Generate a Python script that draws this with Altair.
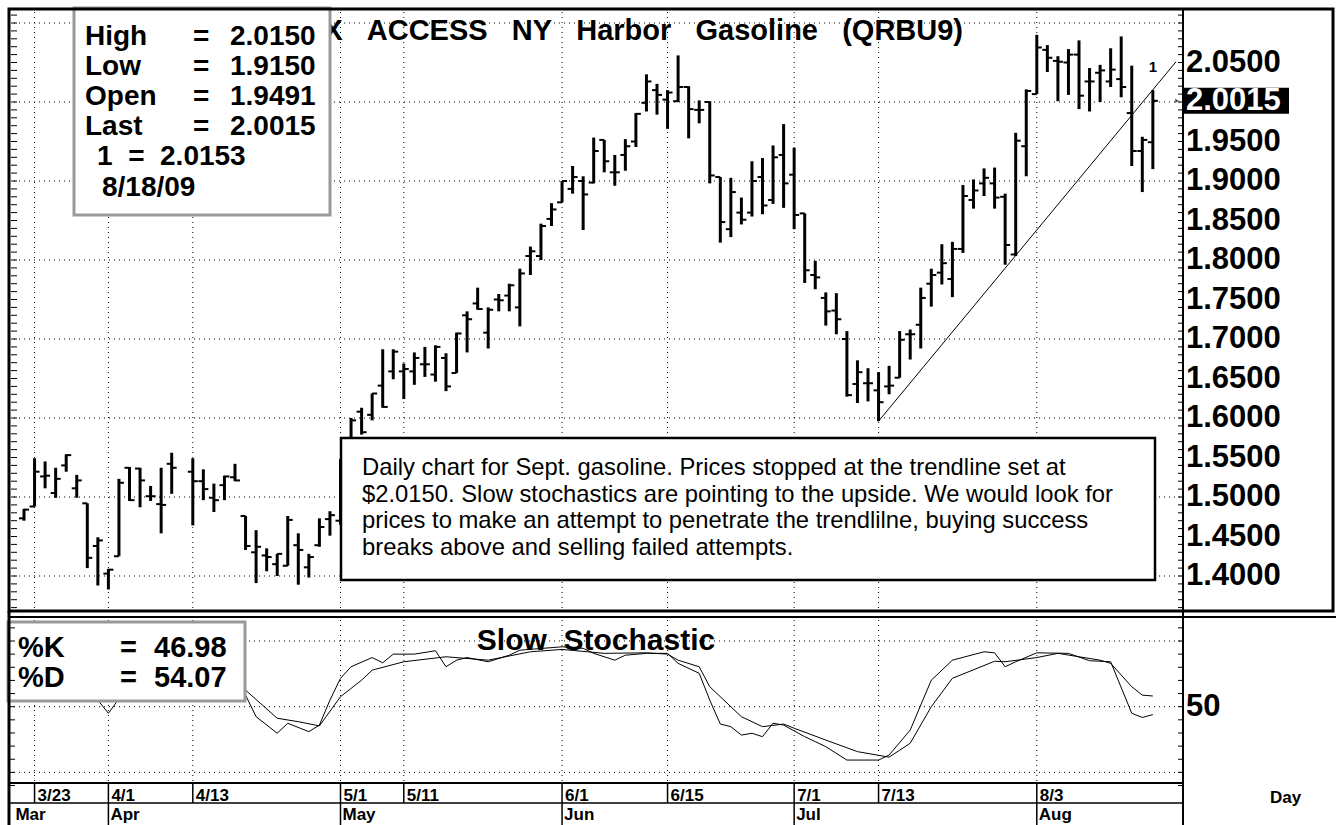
import altair as alt
import pandas as pd

# ---------------- data ----------------
# x position = weekday slot index: 0 = 3/20/09 ... 107 = 8/18/09 (slot 15 = 4/10 Good Friday, no bar)
bar_idx = list(range(0, 15)) + list(range(16, 108))

opens = [1.473, 1.488, 1.526, 1.505, 1.540, 1.511, 1.492, 1.438, 1.403, 1.425, 1.537, 1.536, 1.501, 1.491, 1.542,
         1.532, 1.520, 1.499, 1.515, 1.525, 1.476, 1.430, 1.426, 1.415, 1.413, 1.439, 1.411, 1.439, 1.472,
         1.470, 1.550, 1.608, 1.604, 1.641, 1.659, 1.659, 1.659, 1.668, 1.655, 1.676, 1.657, 1.730, 1.745, 1.708, 1.750, 1.755, 1.740, 1.805, 1.805, 1.852,
         1.873, 1.890, 1.900, 1.898, 1.952, 1.911, 1.933, 1.950, 1.999, 2.015, 2.003, 2.001, 2.019, 1.990, 2.000, 1.905, 1.839, 1.860, 1.860, 1.905, 1.876, 1.933,
         1.908, 1.859, 1.781, 1.752, 1.736, 1.700, 1.643, 1.644, 1.635, 1.640, 1.651, 1.706, 1.718, 1.770, 1.784, 1.776, 1.814, 1.876, 1.897, 1.897, 1.880, 1.807,
         1.944, 2.010, 2.066, 2.052, 2.050, 2.060, 2.026, 2.037, 2.026, 2.029, 1.986, 1.938, 1.9491]
highs = [1.485, 1.549, 1.545, 1.537, 1.554, 1.528, 1.492, 1.449, 1.409, 1.523, 1.538, 1.537, 1.514, 1.537, 1.556,
         1.549, 1.535, 1.517, 1.527, 1.542, 1.476, 1.458, 1.435, 1.428, 1.476, 1.454, 1.428, 1.473, 1.482,
         1.548, 1.600, 1.613, 1.631, 1.687, 1.687, 1.669, 1.683, 1.690, 1.692, 1.682, 1.708, 1.735, 1.765, 1.740, 1.757, 1.770, 1.789, 1.817, 1.846, 1.872,
         1.900, 1.919, 1.906, 1.955, 1.952, 1.933, 1.953, 1.986, 2.035, 2.023, 2.015, 2.059, 2.020, 2.002, 2.001, 1.905, 1.904, 1.879, 1.925, 1.929, 1.945, 1.972,
         1.942, 1.859, 1.799, 1.759, 1.758, 1.710, 1.673, 1.663, 1.658, 1.666, 1.710, 1.712, 1.765, 1.789, 1.820, 1.823, 1.895, 1.902, 1.916, 1.917, 1.884, 1.961,
         2.016, 2.085, 2.072, 2.058, 2.067, 2.078, 2.043, 2.047, 2.068, 2.083, 2.046, 1.956, 2.0150]
lows = [1.470, 1.488, 1.511, 1.499, 1.532, 1.499, 1.410, 1.388, 1.383, 1.425, 1.495, 1.487, 1.495, 1.454, 1.504,
        1.464, 1.496, 1.481, 1.496, 1.520, 1.433, 1.391, 1.406, 1.400, 1.413, 1.389, 1.398, 1.437, 1.451,
        1.465, 1.545, 1.579, 1.597, 1.613, 1.649, 1.624, 1.642, 1.652, 1.646, 1.634, 1.657, 1.683, 1.737, 1.688, 1.735, 1.735, 1.716, 1.781, 1.800, 1.843,
        1.873, 1.884, 1.838, 1.897, 1.911, 1.894, 1.913, 1.943, 1.988, 1.984, 1.966, 2.000, 1.954, 1.973, 1.897, 1.822, 1.829, 1.845, 1.855, 1.858, 1.871, 1.866,
        1.839, 1.771, 1.763, 1.717, 1.706, 1.627, 1.619, 1.621, 1.596, 1.630, 1.651, 1.674, 1.688, 1.741, 1.769, 1.753, 1.809, 1.865, 1.881, 1.865, 1.794, 1.805,
        1.906, 2.010, 2.038, 2.001, 2.009, 1.991, 1.988, 2.000, 2.019, 2.006, 1.919, 1.886, 1.9150]
closes = [1.484, 1.532, 1.527, 1.523, 1.553, 1.521, 1.423, 1.445, 1.408, 1.518, 1.496, 1.521, 1.501, 1.490, 1.537,
          1.520, 1.510, 1.496, 1.526, 1.521, 1.438, 1.437, 1.424, 1.428, 1.471, 1.433, 1.424, 1.462, 1.477,
          1.545, 1.597, 1.582, 1.631, 1.614, 1.684, 1.662, 1.676, 1.668, 1.690, 1.640, 1.707, 1.725, 1.738, 1.737, 1.749, 1.768, 1.783, 1.811, 1.843, 1.864,
          1.900, 1.905, 1.883, 1.938, 1.925, 1.911, 1.944, 1.985, 2.026, 2.009, 2.012, 2.019, 1.991, 1.990, 1.907, 1.848, 1.886, 1.851, 1.900, 1.869, 1.930, 1.897,
          1.857, 1.787, 1.778, 1.735, 1.725, 1.629, 1.658, 1.644, 1.620, 1.641, 1.699, 1.706, 1.752, 1.781, 1.796, 1.814, 1.881, 1.888, 1.904, 1.879, 1.819, 1.951,
          2.014, 2.069, 2.056, 2.051, 2.060, 2.008, 2.026, 2.040, 2.041, 2.019, 1.938, 1.952, 2.0015]

# slow stochastic (%K, %D)
k_idx = [0, 2, 4, 6, 7, 8, 9, 11, 13, 15, 17, 19, 21, 22, 24, 25, 27, 28, 29, 30, 31, 33, 34, 35, 37, 39, 40, 41, 42, 44,
         46, 47, 51, 53, 54, 56, 57, 59, 61, 62, 64, 65, 66, 67, 68, 69, 70, 71, 72, 74, 75, 76, 78, 81, 82, 84, 86, 88,
         91, 92, 93, 94, 96, 99, 101, 103, 105, 106, 107]
k_val = [60, 66, 64, 57, 52.5, 47.5, 53, 60, 65, 66, 63, 59, 54.4, 46.2, 39.9, 43.7, 40.5, 43.0, 52.5, 60.8, 65.2, 68.7, 66.7, 70.0, 70.0, 71.3, 65.2, 67.7, 68.7, 67.1,
         69.6, 71.5, 72.8, 72.2, 70.3, 67.7, 69.6, 70.3, 70.3, 66.5, 62.7, 52.5, 43.4, 42.4, 39.2, 39.9, 38.6, 43.7, 43.0, 38.6, 36.7, 34.8, 29.7, 29.7, 31.6, 41.1, 60.1, 67.7,
         70.9, 70.5, 65.2, 67.1, 70.5, 70.3, 67.5, 67.1, 47.5, 45.9, 46.98]
d_idx = [0, 3, 6, 8, 10, 13, 16, 19, 21, 24, 26, 28, 30, 32, 33, 36, 40, 44, 48, 51, 55, 59, 61, 62, 64, 65, 68, 70, 72, 73,
         76, 79, 82, 84, 86, 88, 92, 93, 96, 98, 102, 103, 105, 106, 107]
d_val = [62, 63, 59, 54, 55, 61, 64, 60, 56.3, 45.6, 44.3, 42.7, 53.8, 60.1, 63.9, 67.1, 69.0, 67.7, 70.9, 71.8, 70.3, 70.5, 70.0, 67.7, 65.2, 57.6, 46.2, 42.4, 43.4, 41.8,
         37.3, 32.9, 30.8, 36.1, 50.0, 60.8, 67.3, 67.1, 68.7, 70.3, 67.7, 66.5, 57.6, 54.4, 54.07]

# trendline drawn on the chart (slot, price)
trend_idx = [81, 109.2]
trend_price = [1.596, 2.051]

# axes
price_grid = [1.4, 1.5, 1.6, 1.7, 1.8, 1.9, 2.0, 2.1]
price_labels = ["2.0500", "1.9500", "1.9000", "1.8500", "1.8000", "1.7500", "1.7000", "1.6500",
                "1.6000", "1.5500", "1.5000", "1.4500", "1.4000"]
price_label_vals = [2.05, 1.95, 1.90, 1.85, 1.80, 1.75, 1.70, 1.65, 1.60, 1.55, 1.50, 1.45, 1.40]
last_price = 2.0015
stoch_grid = [25, 50, 75]
date_idx = [1, 8, 16, 30, 36, 51, 61, 73, 81, 96]
date_labels = ["3/23", "4/1", "4/13", "5/1", "5/11", "6/1", "6/15", "7/1", "7/13", "8/3"]
month_idx = [-1, 8, 30, 51, 73, 96]
month_labels = ["Mar", "Apr", "May", "Jun", "Jul", "Aug"]

FONT = "Arial"
SP = "\u00a0"

# ---------------- scales ----------------
XS = alt.Scale(domain=[0, 107], range=[24, 1152.85], zero=False, nice=False)
PY = alt.Scale(domain=[1.4, 2.05], range=[576, 62.5], zero=False, nice=False)
SY = alt.Scale(domain=[25, 75], range=[772.4, 641.0], zero=False, nice=False)

ohlc = pd.DataFrame({"idx": bar_idx, "open": opens, "high": highs, "low": lows, "close": closes})
one = pd.DataFrame({"a": [0]})


def X(f="idx"):
    return alt.X(f"{f}:Q", scale=XS, axis=None)


def hrule(y, x1, x2, color="black", width=1):
    return alt.Chart(one).mark_rule(color=color, strokeWidth=width).encode(
        x=alt.value(x1), x2=alt.value(x2), y=alt.value(y))


def vrule(x, y1, y2, color="black", width=1):
    return alt.Chart(one).mark_rule(color=color, strokeWidth=width).encode(
        x=alt.value(x), y=alt.value(y1), y2=alt.value(y2))


def box(x1, x2, y1, y2, **kw):
    return alt.Chart(one).mark_rect(**kw).encode(
        x=alt.value(x1), x2=alt.value(x2), y=alt.value(y1), y2=alt.value(y2))


def txt(s, x, y, size, bold=True, align="left", color="black", line_height=None):
    kw = dict(text=s, align=align, baseline="alphabetic", fontSize=size,
              fontWeight="bold" if bold else "normal", font=FONT, color=color, lineBreak="\n")
    if line_height:
        kw["lineHeight"] = line_height
    return alt.Chart(one).mark_text(**kw).encode(x=alt.value(x), y=alt.value(y))


layers = []

# grid: price horizontal dotted
layers.append(alt.Chart(pd.DataFrame({"p": price_grid})).mark_rule(
    color="black", strokeWidth=1, strokeDash=[1, 4]).encode(
    y=alt.Y("p:Q", scale=PY, axis=None), x=alt.value(14), x2=alt.value(1183)))
# stochastic horizontal dotted
layers.append(alt.Chart(pd.DataFrame({"s": stoch_grid})).mark_rule(
    color="black", strokeWidth=1, strokeDash=[1, 4]).encode(
    y=alt.Y("s:Q", scale=SY, axis=None), x=alt.value(14), x2=alt.value(1183)))
# vertical dotted
dates_df = pd.DataFrame({"idx": date_idx, "lab": date_labels})
for y1, y2 in [(12, 608), (620, 781)]:
    layers.append(alt.Chart(dates_df).mark_rule(color="black", strokeWidth=1, strokeDash=[1, 4]).encode(
        x=X(), y=alt.value(y1), y2=alt.value(y2)))

# trendline
layers.append(alt.Chart(pd.DataFrame({"idx": trend_idx, "p": trend_price})).mark_line(
    color="black", strokeWidth=1).encode(x=X(), y=alt.Y("p:Q", scale=PY, axis=None)))

# OHLC bars
layers.append(alt.Chart(ohlc).mark_rule(color="black", strokeWidth=3).encode(
    x=X(), y=alt.Y("low:Q", scale=PY, axis=None), y2="high:Q"))
layers.append(alt.Chart(ohlc).mark_rule(color="black", strokeWidth=2, xOffset=-5, x2Offset=0).encode(
    x=X(), x2="idx:Q", y=alt.Y("open:Q", scale=PY, axis=None)))
layers.append(alt.Chart(ohlc).mark_rule(color="black", strokeWidth=2, xOffset=0, x2Offset=5).encode(
    x=X(), x2="idx:Q", y=alt.Y("close:Q", scale=PY, axis=None)))

# stochastic lines
stoch = pd.concat([
    pd.DataFrame({"idx": k_idx, "v": k_val, "s": "%K"}),
    pd.DataFrame({"idx": d_idx, "v": d_val, "s": "%D"}),
])
layers.append(alt.Chart(stoch).mark_line(color="black", strokeWidth=1).encode(
    x=X(), y=alt.Y("v:Q", scale=SY, axis=None), detail="s:N"))

# "1" trendline marker
layers.append(alt.Chart(pd.DataFrame({"idx": [107], "p": [2.0447]})).mark_text(
    text="1", fontSize=15, fontWeight="bold", font=FONT, baseline="middle").encode(
    x=X(), y=alt.Y("p:Q", scale=PY, axis=None)))

# comment box
layers.append(box(341, 1155, 438, 580, fill="white", stroke="black", strokeWidth=2.5))
layers.append(txt("Daily chart for Sept. gasoline. Prices stopped at the trendline set at\n"
                  "$2.0150. Slow stochastics are pointing to the upside. We would look for\n"
                  "prices to make an attempt to penetrate the trendlilne, buying success\n"
                  "breaks above and selling failed attempts.", 362, 475, 23.8, bold=False,
                  line_height=26.7))

# title (its start is hidden behind the info box; only the end of "NYMEX" shows)
title = (SP * 3).join(["X", "ACCESS", "NY", "Harbor", "Gasoline", "(QRBU9)"])
layers.append(txt(title, 963, 40, 29, align="right"))

# info box (top left)
layers.append(box(74, 330, 8, 215, fill="white", stroke="#9a9a9a", strokeWidth=3))
info_rows = ["High", "Low", "Open", "Last"]
info_vals = ["2.0150", "1.9150", "1.9491", "2.0015"]
for i, (r, v) in enumerate(zip(info_rows, info_vals)):
    yb = 45 + 30 * i
    layers.append(txt(r, 85, yb, 28))
    layers.append(txt("=", 193, yb, 28))
    layers.append(txt(v, 230, yb, 28))
layers.append(txt("1" + SP * 2 + "=" + SP * 2 + "2.0153", 97, 165, 28))
layers.append(txt("8/18/09", 102, 196, 28))

# stochastic info box
layers.append(box(8, 245, 622, 701, fill="white", stroke="#9a9a9a", strokeWidth=3))
layers.append(txt("%K", 18, 657, 29))
layers.append(txt("%D", 18, 687, 29))
layers.append(txt("=", 120, 657, 29))
layers.append(txt("=", 120, 687, 29))
layers.append(txt("46.98", 154, 657, 29))
layers.append(txt("54.07", 154, 687, 29))
layers.append(txt("Slow" + SP * 2 + "Stochastic", 596, 650, 30, align="center"))

# frames
layers.append(box(9, 1333, 9, 611, fill=None, fillOpacity=0, stroke="black", strokeWidth=3))
layers.append(hrule(617, 9, 1336, width=2))
layers.append(hrule(783, 9, 1183, width=2))
layers.append(hrule(803, 9, 1183, width=1.5))
layers.append(vrule(9, 611, 825, width=3))
layers.append(vrule(1183, 9, 825, width=2))

# right-hand minor ticks (price) and left-hand ticks
ptick = pd.DataFrame({"p": [round(1.36 + 0.01 * i, 2) for i in range(76)]})
layers.append(alt.Chart(ptick).mark_rule(color="black", strokeWidth=1).encode(
    y=alt.Y("p:Q", scale=PY, axis=None), x=alt.value(1178), x2=alt.value(1183)))
layers.append(alt.Chart(ptick).mark_rule(color="black", strokeWidth=1).encode(
    y=alt.Y("p:Q", scale=PY, axis=None), x=alt.value(11), x2=alt.value(17)))
stick = pd.DataFrame({"s": [20 + 5 * i for i in range(13)]})
layers.append(alt.Chart(stick).mark_rule(color="black", strokeWidth=1).encode(
    y=alt.Y("s:Q", scale=SY, axis=None), x=alt.value(1178), x2=alt.value(1183)))
layers.append(alt.Chart(stick).mark_rule(color="black", strokeWidth=1).encode(
    y=alt.Y("s:Q", scale=SY, axis=None), x=alt.value(9), x2=alt.value(15)))

# price axis labels
layers.append(alt.Chart(pd.DataFrame({"p": price_label_vals, "t": price_labels})).mark_text(
    align="left", baseline="middle", fontSize=31, fontWeight="bold", font=FONT).encode(
    y=alt.Y("p:Q", scale=PY, axis=None), x=alt.value(1186), text="t:N"))
last_df = pd.DataFrame({"p": [last_price], "t": ["2.0015"]})
layers.append(alt.Chart(last_df).mark_rect(color="black", yOffset=-13, y2Offset=13).encode(
    y=alt.Y("p:Q", scale=PY, axis=None), y2="p:Q", x=alt.value(1184), x2=alt.value(1289)))
layers.append(alt.Chart(last_df).mark_text(
    align="left", baseline="middle", fontSize=31, fontWeight="bold", font=FONT, color="white").encode(
    y=alt.Y("p:Q", scale=PY, axis=None), x=alt.value(1186), text="t:N"))
layers.append(alt.Chart(last_df).mark_point(shape="triangle-right", size=18, filled=True, color="black").encode(
    y=alt.Y("p:Q", scale=PY, axis=None), x=alt.value(1177)))
layers.append(alt.Chart(pd.DataFrame({"s": [50], "t": ["50"]})).mark_text(
    align="left", baseline="middle", fontSize=31, fontWeight="bold", font=FONT).encode(
    y=alt.Y("s:Q", scale=SY, axis=None), x=alt.value(1186), text="t:N"))

# date axis
layers.append(alt.Chart(dates_df).mark_rule(color="black", strokeWidth=1.5).encode(
    x=X(), y=alt.value(783), y2=alt.value(803)))
layers.append(alt.Chart(dates_df).mark_text(
    align="left", baseline="alphabetic", fontSize=17, fontWeight="bold", font=FONT, dx=3).encode(
    x=X(), y=alt.value(801), text="lab:N"))
months_df = pd.DataFrame({"idx": month_idx, "lab": month_labels})
layers.append(alt.Chart(months_df[months_df.idx >= 0]).mark_rule(color="black", strokeWidth=1.5).encode(
    x=X(), y=alt.value(803), y2=alt.value(825)))
layers.append(alt.Chart(months_df).mark_text(
    align="left", baseline="alphabetic", fontSize=17, fontWeight="bold", font=FONT, dx=2).encode(
    x=X(), y=alt.value(820), text="lab:N"))
layers.append(txt("Day", 1270, 803, 17))

chart = alt.layer(*layers).resolve_scale(y="independent").properties(
    width=1336, height=825, autosize=alt.AutoSizeParams(type="none"), padding=0,
    background="white",
).configure_view(stroke=None)

chart.save("out.html", embed_options={"renderer": "svg", "actions": False})
